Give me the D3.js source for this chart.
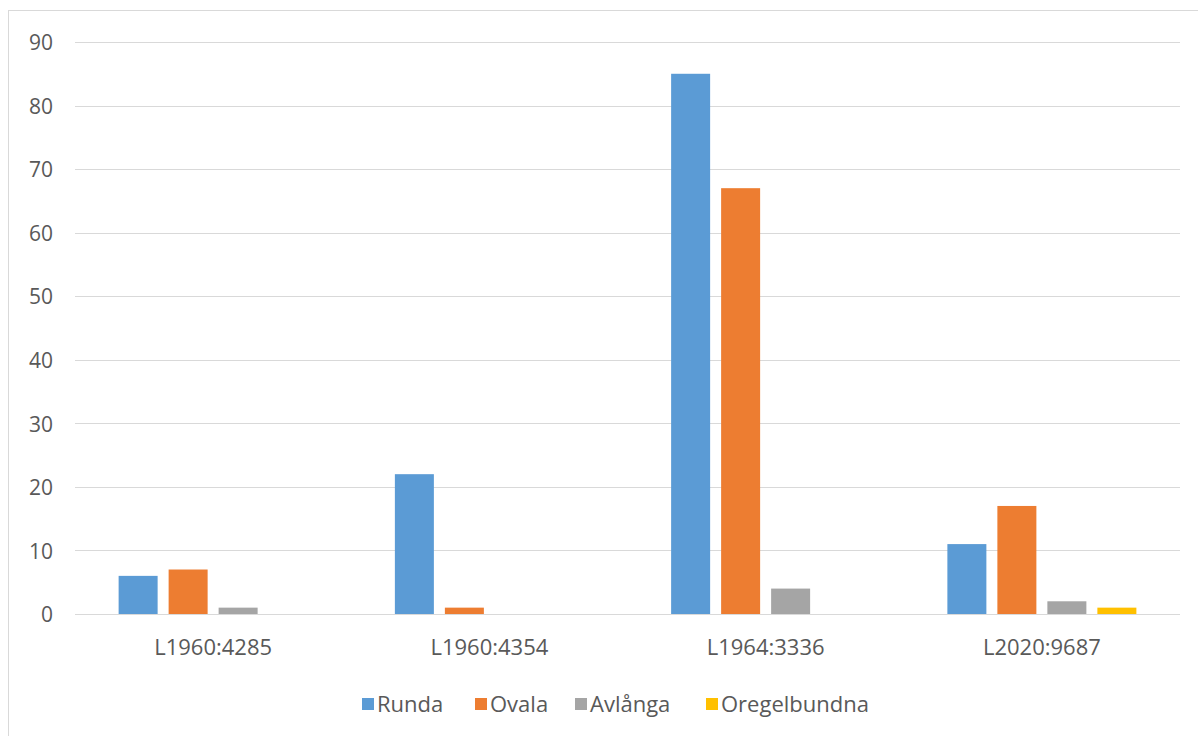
<!DOCTYPE html>
<html>
<head>
<meta charset="utf-8">
<script src="https://cdn.jsdelivr.net/npm/d3@7/dist/d3.min.js"></script>
<style>
  html, body { margin: 0; padding: 0; background: #fff; }
  svg { display: block; font-family: "Open Sans", "Noto Sans", sans-serif; }
</style>
</head>
<body>
<svg id="chart" width="1198" height="736"></svg>
<script>
// Finds per site, grouped by shape
const categories = ["L1960:4285", "L1960:4354", "L1964:3336", "L2020:9687"];
const seriesNames = ["Runda", "Ovala", "Avlånga", "Oregelbundna"];
const runda = [6, 22, 85, 11];
const ovala = [7, 1, 67, 17];
const avlanga = [1, 0, 4, 2];
const oregelbundna = [0, 0, 0, 1];
const yTicks = [0, 10, 20, 30, 40, 50, 60, 70, 80, 90];
const colors = ["#5B9BD5", "#ED7D31", "#A5A5A5", "#FFC000"];

const seriesValues = [runda, ovala, avlanga, oregelbundna];

const svg = d3.select("#chart");
const W = 1198, H = 736;
const plot = { left: 75, right: 1180, top: 42, bottom: 614 };
const textColor = "#595959";

// chart frame (top and left edges)
svg.append("line").attr("x1", 8).attr("x2", W).attr("y1", 10.5).attr("y2", 10.5)
  .attr("stroke", "#d9d9d9");
svg.append("line").attr("x1", 8.5).attr("x2", 8.5).attr("y1", 10).attr("y2", H)
  .attr("stroke", "#d9d9d9");

const x0 = d3.scaleBand().domain(categories).range([plot.left, plot.right]);
const groupWidth = 189;
const x1 = d3.scaleBand().domain(seriesNames).range([0, groupWidth]).paddingInner(0.22);
const y = d3.scaleLinear().domain([0, 90]).range([plot.bottom, plot.top]);

// gridlines
svg.append("g").selectAll("line").data(yTicks.filter(d => d > 0)).join("line")
  .attr("x1", plot.left).attr("x2", plot.right)
  .attr("y1", d => Math.round(y(d)) + 0.5).attr("y2", d => Math.round(y(d)) + 0.5)
  .attr("stroke", "#d9d9d9").attr("stroke-width", 1);

// y axis labels
const yAxis = d3.axisLeft(y).tickValues(yTicks).tickSize(0).tickPadding(0);
const gy = svg.append("g").attr("transform", `translate(53,1)`).call(yAxis);
gy.select(".domain").remove();
gy.selectAll("text").attr("fill", textColor).style("font-size", "21px")
  .style("font-family", '"Open Sans", sans-serif');

// bars
const groups = svg.append("g").selectAll("g").data(categories).join("g")
  .attr("transform", c => `translate(${x0(c) + (x0.bandwidth() - groupWidth) / 2},0)`);
groups.selectAll("rect")
  .data((c, i) => seriesNames.map((s, j) => ({ s, j, v: seriesValues[j][i] })))
  .join("rect")
  .attr("x", d => x1(d.s))
  .attr("width", x1.bandwidth())
  .attr("y", d => y(d.v))
  .attr("height", d => y(0) - y(d.v))
  .attr("fill", d => colors[d.j]);

// baseline
svg.append("line")
  .attr("x1", plot.left).attr("x2", plot.right)
  .attr("y1", plot.bottom + 0.5).attr("y2", plot.bottom + 0.5)
  .attr("stroke", "#d9d9d9").attr("stroke-width", 1);

// category labels
const xAxis = d3.axisBottom(x0).tickSize(0).tickPadding(0);
const gx = svg.append("g").attr("transform", `translate(0,${plot.bottom})`).call(xAxis);
gx.select(".domain").remove();
gx.selectAll("text").attr("fill", textColor).style("font-size", "22px")
  .attr("dy", null).attr("y", 41)
  .style("font-family", '"Open Sans", sans-serif');

// legend
const legendItems = [
  { name: "Runda", x: 362 },
  { name: "Ovala", x: 475 },
  { name: "Avlånga", x: 575 },
  { name: "Oregelbundna", x: 706 }
];
const lg = svg.append("g").selectAll("g").data(legendItems).join("g")
  .attr("transform", d => `translate(${d.x},704)`);
lg.append("rect").attr("x", 0).attr("y", -6).attr("width", 12).attr("height", 12)
  .attr("fill", (d, i) => colors[i]);
lg.append("text").attr("x", 15).attr("y", 0).attr("dy", "0.35em")
  .attr("fill", textColor).style("font-size", "22px")
  .text(d => d.name);
</script>
</body>
</html>
